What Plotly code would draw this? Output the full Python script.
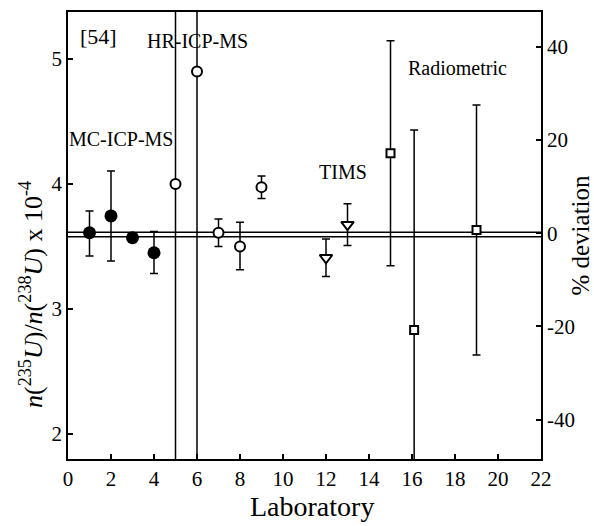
import plotly.graph_objects as go

# MC-ICP-MS (filled circles)
mc_lab = [1, 2, 3, 4]
mc_val = [3.61, 3.745, 3.57, 3.45]
mc_err_plus = [0.175, 0.36, 0.02, 0.17]
mc_err_minus = [0.185, 0.36, 0.02, 0.165]

# HR-ICP-MS (open circles)
hr_lab = [5, 6, 7, 8, 9]
hr_val = [4.0, 4.9, 3.61, 3.50, 3.975]
hr_err_plus = [5.0, 5.0, 0.11, 0.195, 0.09]
hr_err_minus = [5.0, 5.0, 0.11, 0.185, 0.09]

# TIMS (open down-triangles)
tims_lab = [12, 13]
tims_val = [3.41, 3.675]
tims_err = [0.15, 0.167]

# Radiometric (open squares)
rad_lab = [15, 16.1, 19]
rad_val = [4.246, 2.832, 3.632]
rad_err = [0.9, 1.6, 1.0]

ref_lines = [3.615, 3.578]

x_ticks = list(range(0, 23, 2))
y_ticks = [2, 3, 4, 5]
y2_ticks = [-40, -20, 0, 20, 40]
y2_labels = ["-40", "-20", "0", "20", "40"]

FONT = "Liberation Serif, Times New Roman, serif"
BLACK = "black"

def eb(plus, minus=None):
    d = dict(type="data", array=plus, color=BLACK, thickness=1.5, width=4)
    if minus is not None:
        d["symmetric"] = False
        d["arrayminus"] = minus
    return d

fig = go.Figure()

fig.add_trace(go.Scatter(
    x=mc_lab, y=mc_val, mode="markers", name="MC-ICP-MS",
    marker=dict(symbol="circle", size=13, color=BLACK, line=dict(width=0)),
    error_y=eb(mc_err_plus, mc_err_minus)))

fig.add_trace(go.Scatter(
    x=hr_lab, y=hr_val, mode="markers", name="HR-ICP-MS",
    marker=dict(symbol="circle", size=10, color="white", line=dict(width=2, color=BLACK)),
    error_y=eb(hr_err_plus, hr_err_minus)))

fig.add_trace(go.Scatter(
    x=tims_lab, y=tims_val, mode="markers", name="TIMS",
    marker=dict(symbol="triangle-down", size=11, color="white", line=dict(width=2, color=BLACK)),
    error_y=eb(tims_err)))

fig.add_trace(go.Scatter(
    x=rad_lab, y=rad_val, mode="markers", name="Radiometric",
    marker=dict(symbol="square", size=8, color="white", line=dict(width=2, color=BLACK)),
    error_y=eb(rad_err)))

# invisible trace to activate secondary axis
fig.add_trace(go.Scatter(x=[None], y=[None], yaxis="y2", showlegend=False, hoverinfo="skip"))

for v in ref_lines:
    fig.add_shape(type="line", xref="x", yref="y", x0=0, x1=22, y0=v, y1=v,
                  line=dict(color=BLACK, width=1.5), layer="below")

annots = [
    ("[54]", 1.44, 5.18, 22),
    ("HR-ICP-MS", 6.02, 5.148, 20),
    ("MC-ICP-MS", 2.47, 4.362, 20),
    ("TIMS", 12.77, 4.10, 20),
    ("Radiometric", 18.12, 4.928, 20),
]
for text, x, y, size in annots:
    fig.add_annotation(x=x, y=y, xref="x", yref="y", text=text, showarrow=False,
                       font=dict(family=FONT, size=size, color=BLACK))

# axis titles as annotations (placed like the reference)
fig.add_annotation(
    x=-0.076, y=0.367, xref="paper", yref="paper", showarrow=False, textangle=-90,
    xanchor="center", yanchor="middle",
    text="<i>n</i>(<sup>235</sup><i>U</i>)/<i>n</i>(<sup>238</sup><i>U</i>) x 10<sup>-4</sup>",
    font=dict(family=FONT, size=26, color=BLACK))
fig.add_annotation(
    x=0.515, y=-0.106, xref="paper", yref="paper", showarrow=False,
    xanchor="center", yanchor="middle", text="Laboratory",
    font=dict(family=FONT, size=28, color=BLACK))

axis_common = dict(showgrid=False, zeroline=False, showline=True, linecolor=BLACK,
                   linewidth=1.5, ticks="inside", ticklen=5, tickwidth=1.5,
                   tickcolor=BLACK, automargin=False,
                   tickfont=dict(family=FONT, size=21, color=BLACK))

fig.update_layout(
    width=594, height=526,
    margin=dict(l=68, r=53, t=12, b=67),
    paper_bgcolor="white", plot_bgcolor="white",
    showlegend=False,
    font=dict(family=FONT, color=BLACK),
    xaxis=dict(range=[0, 22], tickvals=x_ticks, mirror=True, **axis_common),
    yaxis=dict(range=[1.8, 5.376], tickvals=y_ticks, mirror=True, **axis_common),
    yaxis2=dict(range=[-48.4, 47.4], tickvals=y2_ticks, ticktext=y2_labels,
                overlaying="y", side="right",
                title=dict(text="% deviation", font=dict(family=FONT, size=25, color=BLACK), standoff=2),
                **axis_common),
)

fig.write_html("out.html", config={"displayModeBar": False},
               post_script="document.body.style.margin='0';document.body.style.overflow='hidden';")
